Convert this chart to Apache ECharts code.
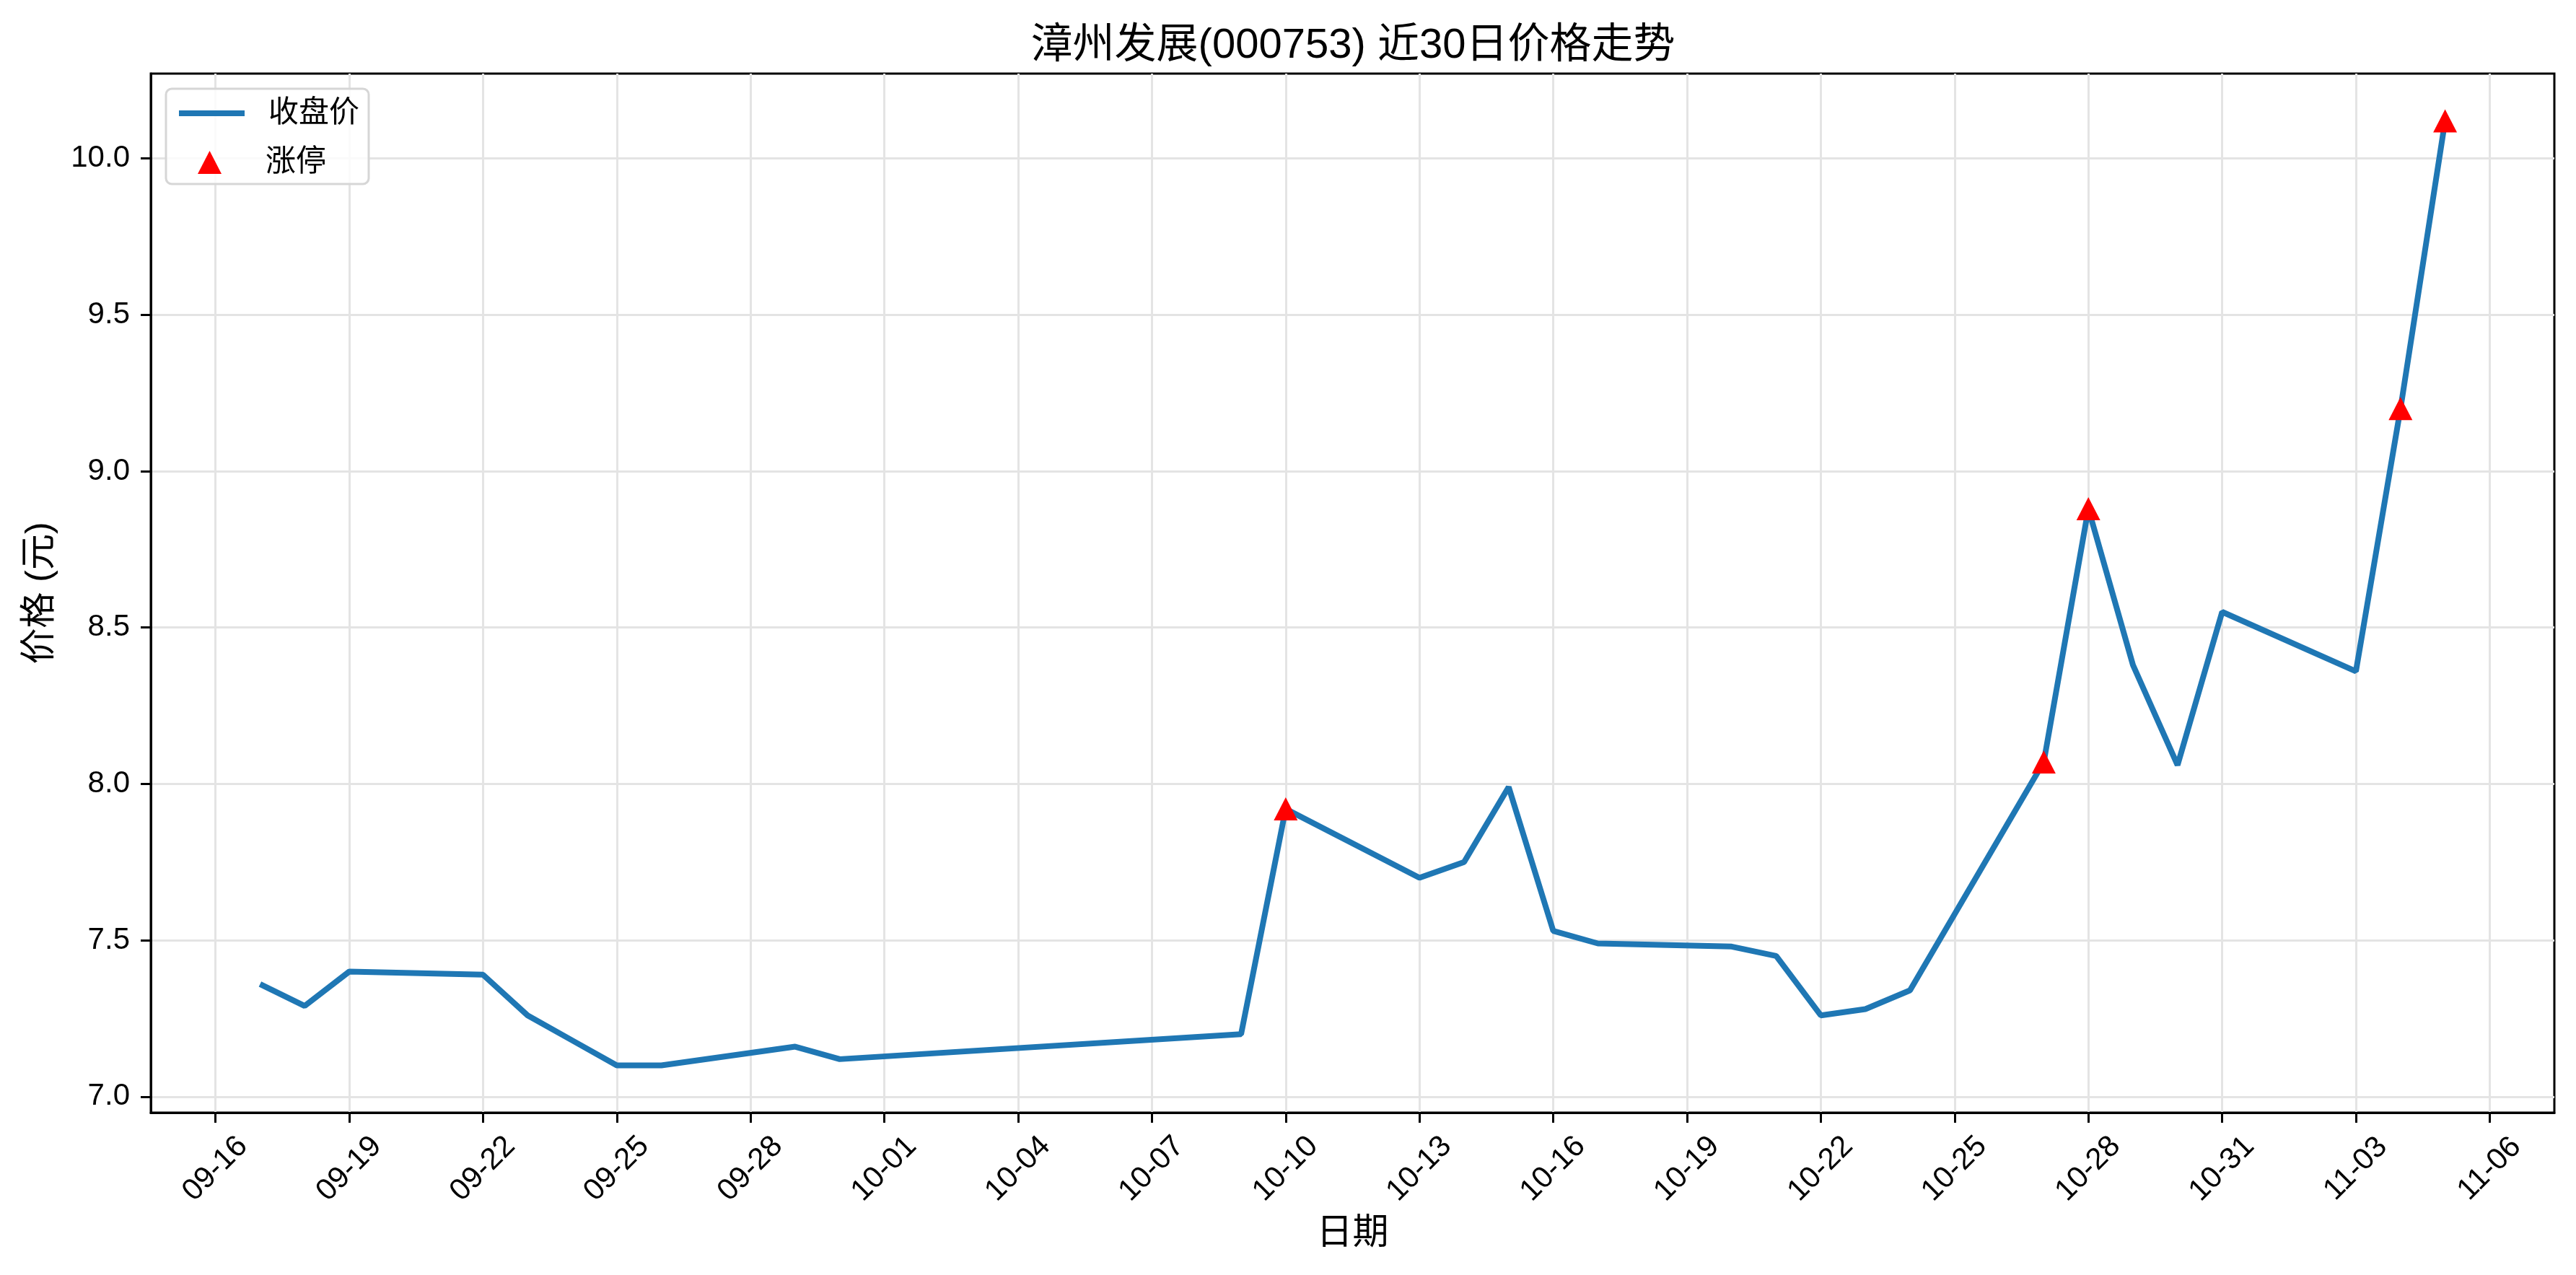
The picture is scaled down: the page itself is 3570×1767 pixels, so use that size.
<!DOCTYPE html>
<html>
<head>
<meta charset="utf-8">
<script src="https://cdn.jsdelivr.net/npm/echarts@6/dist/echarts.min.js"></script>
<style>
html,body{margin:0;padding:0;background:#fff;}
#chart{width:3570px;height:1767px;}
</style>
</head>
<body>
<div id="chart"></div>
<script>
// ---- data ----
const dates = ['09-17','09-18','09-19','09-22','09-23','09-24','09-25','09-26','09-29','09-30',
  '10-09','10-10','10-13','10-14','10-15','10-16','10-17','10-20','10-21','10-22',
  '10-23','10-24','10-27','10-28','10-29','10-30','10-31','11-03','11-04','11-05'];
const closes = [7.36,7.29,7.40,7.39,7.26,7.18,7.10,7.10,7.16,7.12,
  7.20,7.92,7.70,7.75,7.99,7.53,7.49,7.48,7.45,7.26,
  7.28,7.34,8.07,8.88,8.38,8.06,8.55,8.36,9.20,10.12];
const limitUpDates = ['10-10','10-27','10-28','11-04','11-05'];
const xTickLabels = ['09-16','09-19','09-22','09-25','09-28','10-01','10-04','10-07','10-10',
  '10-13','10-16','10-19','10-22','10-25','10-28','10-31','11-03','11-06'];
const yTicks = [7.0,7.5,8.0,8.5,9.0,9.5,10.0];

// ---- helpers ----
const YEAR = 2025;
const DAY = 86400000;
const BASE = Date.UTC(YEAR, 8, 16);
function dayOf(md){ const p = md.split('-'); return (Date.UTC(YEAR, +p[0]-1, +p[1]) - BASE) / DAY; }
function mdOf(d){ const t = new Date(BASE + Math.round(d) * DAY);
  return String(t.getUTCMonth()+1).padStart(2,'0') + '-' + String(t.getUTCDate()).padStart(2,'0'); }

const lineData = dates.map((d,i) => [dayOf(d), closes[i]]);
const limitData = limitUpDates.map(d => [dayOf(d), closes[dates.indexOf(d)]]);
const xTicks = xTickLabels.map(dayOf);

const xs = lineData.map(p => p[0]);
const xmin0 = Math.min(...xs), xmax0 = Math.max(...xs);
const xpad = (xmax0 - xmin0) * 0.05;
const ymin0 = Math.min(...closes), ymax0 = Math.max(...closes);
const ypad = (ymax0 - ymin0) * 0.05;

const FONT = "'Liberation Sans', 'Noto Sans CJK SC', sans-serif";

const chart = echarts.init(document.getElementById('chart'), null, {renderer:'canvas'});
chart.setOption({
  backgroundColor: '#ffffff',
  animation: false,
  title: {
    text: '漳州发展(000753) 近30日价格走势',
    left: 1875,
    textAlign: 'center',
    top: 35,
    padding: 0,
    textStyle: { fontFamily: FONT, fontSize: 58, fontWeight: 'normal', color: '#000', lineHeight: 58 }
  },
  legend: [
    {
      data: ['收盘价'],
      orient: 'vertical',
      left: 230, top: 123,
      padding: [13, 13, 77, 14],
      itemWidth: 91, itemHeight: 42,
      backgroundColor: 'rgba(255,255,255,0.8)',
      borderColor: '#d6d6d6', borderWidth: 3, borderRadius: 8,
      z: 4,
      itemStyle: { color: 'rgba(0,0,0,0)', opacity: 0, borderWidth: 0 },
      lineStyle: { color: '#1f77b4', width: 8 },
      textStyle: { fontFamily: FONT, fontSize: 42, color: '#000', padding: [0,0,0,28] }
    },
    {
      data: ['涨停'],
      orient: 'vertical',
      left: 274, top: 204,
      padding: 0,
      itemWidth: 33, itemHeight: 32,
      z: 5,
      itemStyle: { opacity: 1 },
      textStyle: { fontFamily: FONT, fontSize: 42, color: '#000', padding: [0,0,0,56] }
    }
  ],
  grid: {
    left: 209, right: 30, top: 102, bottom: 225,
    show: true, borderColor: '#000', borderWidth: 3,
    containLabel: false, outerBoundsMode: 'none'
  },
  xAxis: {
    type: 'value',
    min: xmin0 - xpad, max: xmax0 + xpad,
    name: '日期', nameLocation: 'middle', nameGap: 143,
    nameTextStyle: { fontFamily: FONT, fontSize: 50, color: '#000' },
    axisLine: { show: true, onZero: false, lineStyle: { color: '#000', width: 3 } },
    axisTick: { show: true, length: 14, customValues: xTicks, lineStyle: { color: '#000', width: 3 } },
    axisLabel: {
      customValues: xTicks, rotate: 45, align: 'center', verticalAlign: 'middle', margin: 78,
      fontFamily: FONT, fontSize: 42, color: '#000',
      formatter: v => mdOf(v)
    },
    splitLine: { show: true, customValues: xTicks, lineStyle: { color: '#e4e4e4', width: 3 } }
  },
  yAxis: {
    type: 'value',
    min: ymin0 - ypad, max: ymax0 + ypad,
    name: '价格 (元)', nameLocation: 'middle', nameGap: 128, nameRotate: 90,
    nameTextStyle: { fontFamily: FONT, fontSize: 50, color: '#000' },
    axisLine: { show: true, onZero: false, lineStyle: { color: '#000', width: 3 } },
    axisTick: { show: true, length: 14, customValues: yTicks, lineStyle: { color: '#000', width: 3 } },
    axisLabel: {
      customValues: yTicks, margin: 29,
      fontFamily: FONT, fontSize: 42, color: '#000',
      formatter: v => v.toFixed(1)
    },
    splitLine: { show: true, customValues: yTicks, lineStyle: { color: '#e4e4e4', width: 3 } }
  },
  series: [
    {
      name: '收盘价', type: 'line', data: lineData,
      symbol: 'none', showSymbol: false,
      lineStyle: { color: '#1f77b4', width: 8 },
      itemStyle: { color: '#1f77b4' },
      z: 2
    },
    {
      name: '涨停', type: 'scatter', data: limitData,
      symbol: 'triangle', symbolSize: [33, 32],
      itemStyle: { color: '#ff0000', opacity: 1 },
      z: 3
    }
  ]
});
</script>
</body>
</html>
